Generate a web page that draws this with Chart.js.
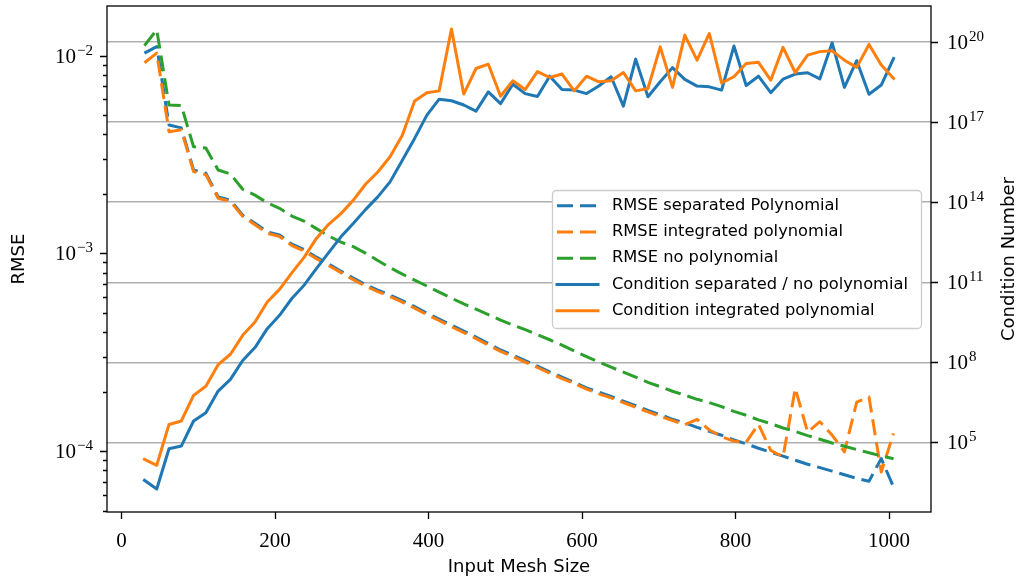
<!DOCTYPE html>
<html>
<head>
<meta charset="utf-8">
<script src="https://cdn.jsdelivr.net/npm/chart.js@4/dist/chart.umd.min.js"></script>
<style>
  html, body { margin: 0; padding: 0; background: #fff; }
  canvas { display: block; }
</style>
</head>
<body>
<canvas id="chart" width="1021" height="578"></canvas>
<script>
// input mesh sizes (x)
const meshSize = [30, 46, 62, 78, 94, 110, 126, 142, 158, 174, 190, 206, 222, 238, 254, 270, 286, 302, 318, 334,
  350, 366, 382, 398, 414, 430, 446, 462, 478, 494, 510, 526, 542, 558, 574, 590, 606, 622, 638, 654,
  670, 686, 702, 718, 734, 750, 766, 782, 798, 814, 830, 846, 862, 878, 894, 910, 926, 942, 958, 974, 990, 1006]

// RMSE (left axis)
const rmseSeparated = [1.028e-2, 1.11e-2, 4.46e-3, 4.31e-3, 2.64e-3, 2.54e-3, 1.93e-3, 1.86e-3, 1.56e-3, 1.42e-3,
  1.285e-3, 1.24e-3, 1.114e-3, 1.045e-3, 9.57e-4, 8.83e-4, 8.13e-4, 7.50e-4, 6.95e-4, 6.52e-4,
  6.15e-4, 5.77e-4, 5.38e-4, 4.99e-4, 4.66e-4, 4.34e-4, 4.05e-4, 3.78e-4, 3.50e-4, 3.25e-4,
  3.06e-4, 2.87e-4, 2.69e-4, 2.52e-4, 2.37e-4, 2.23e-4, 2.09e-4, 1.99e-4, 1.89e-4, 1.79e-4,
  1.70e-4, 1.61e-4, 1.53e-4, 1.45e-4, 1.39e-4, 1.32e-4, 1.26e-4, 1.205e-4, 1.14e-4, 1.09e-4,
  1.035e-4, 9.89e-5, 9.44e-5, 9.0e-5, 8.59e-5, 8.26e-5, 7.93e-5, 7.60e-5, 7.30e-5, 7.05e-5,
  9.18e-5, 6.59e-5]
const rmseIntegrated = [9.20e-3, 1.028e-2, 4.12e-3, 4.21e-3, 2.59e-3, 2.50e-3, 1.90e-3, 1.83e-3, 1.54e-3, 1.395e-3,
  1.263e-3, 1.218e-3, 1.095e-3, 1.027e-3, 9.41e-4, 8.68e-4, 7.99e-4, 7.37e-4, 6.83e-4, 6.41e-4,
  6.05e-4, 5.67e-4, 5.29e-4, 4.90e-4, 4.58e-4, 4.26e-4, 3.98e-4, 3.71e-4, 3.44e-4, 3.20e-4,
  3.01e-4, 2.82e-4, 2.65e-4, 2.48e-4, 2.33e-4, 2.20e-4, 2.06e-4, 1.95e-4, 1.86e-4, 1.76e-4,
  1.67e-4, 1.58e-4, 1.50e-4, 1.43e-4, 1.36e-4, 1.45e-4, 1.28e-4, 1.185e-4, 1.124e-4, 1.11e-4,
  1.37e-4, 1.01e-4, 9.36e-5, 2.08e-4, 1.25e-4, 1.41e-4, 1.205e-4, 9.92e-5, 1.77e-4, 1.88e-4,
  7.85e-5, 1.23e-4]
const rmseNoPoly = [1.122e-2, 1.349e-2, 5.62e-3, 5.59e-3, 3.46e-3, 3.41e-3, 2.64e-3, 2.52e-3, 2.11e-3, 1.97e-3,
  1.80e-3, 1.69e-3, 1.545e-3, 1.455e-3, 1.334e-3, 1.225e-3, 1.14e-3, 1.081e-3, 1.003e-3, 9.20e-4,
  8.47e-4, 7.85e-4, 7.33e-4, 6.84e-4, 6.37e-4, 5.94e-4, 5.55e-4, 5.22e-4, 4.90e-4, 4.60e-4,
  4.34e-4, 4.12e-4, 3.88e-4, 3.66e-4, 3.44e-4, 3.21e-4, 3.01e-4, 2.82e-4, 2.66e-4, 2.51e-4,
  2.37e-4, 2.23e-4, 2.12e-4, 2.01e-4, 1.92e-4, 1.83e-4, 1.76e-4, 1.68e-4, 1.59e-4, 1.52e-4,
  1.44e-4, 1.38e-4, 1.31e-4, 1.26e-4, 1.20e-4, 1.15e-4, 1.10e-4, 1.06e-4, 1.02e-4, 9.82e-5,
  9.48e-5, 9.16e-5]

// condition number (right axis)
const condSeparated = [3.76e3, 1.78e3, 5.75e4, 7.24e4, 6.31e5, 1.29e6, 8.32e6, 2.29e7, 1.17e8, 3.55e8,
  1.82e9, 5.75e9, 2.45e10, 7.76e10, 3.24e11, 1.29e12, 5.01e12, 1.58e13, 5.25e13, 1.58e14,
  5.75e14, 3.72e15, 2.45e16, 1.82e17, 7.24e17, 6.31e17, 4.37e17, 2.57e17, 1.35e18, 4.90e17,
  2.63e18, 1.17e18, 9.12e17, 5.25e18, 1.66e18, 1.58e18, 1.17e18, 2.24e18, 5.01e18, 3.98e17,
  2.29e19, 8.91e17, 3.24e18, 1.10e19, 3.98e18, 2.24e18, 2.09e18, 1.58e18, 7.08e19, 2.34e18,
  5.25e18, 1.26e18, 4.07e18, 6.31e18, 7.08e18, 4.17e18, 9.33e19, 2.00e18, 2.00e19, 1.10e18,
  2.45e18, 2.40e19]
const condIntegrated = [2.29e4, 1.38e4, 4.68e5, 6.31e5, 5.75e6, 1.26e7, 8.13e7, 2.00e8, 1.02e9, 3.24e9,
  1.82e10, 5.37e10, 2.24e11, 8.51e11, 4.37e12, 1.48e13, 3.72e13, 1.17e14, 4.68e14, 1.35e15,
  5.01e15, 3.24e16, 6.17e17, 1.26e18, 1.48e18, 3.09e20, 1.12e18, 1.02e19, 1.48e19, 9.33e17,
  3.55e18, 1.66e18, 7.76e18, 4.68e18, 6.31e18, 1.48e18, 5.25e18, 3.24e18, 3.55e18, 7.24e18,
  1.48e18, 1.82e18, 6.61e19, 2.00e18, 1.82e20, 2.09e19, 2.09e20, 2.95e18, 5.01e18, 1.58e19,
  1.74e19, 3.72e18, 6.31e19, 7.08e18, 3.24e19, 4.37e19, 4.68e19, 2.09e19, 1.12e19, 8.13e19,
  1.38e19, 4.37e18]

// ticks
const xTicks = [0, 200, 400, 600, 800, 1000]
const rmseTicks = [1e-4, 1e-3, 1e-2]
const rmseMinorTicks = [5e-5, 6e-5, 7e-5, 8e-5, 9e-5, 2e-4, 3e-4, 4e-4, 5e-4, 6e-4, 7e-4, 8e-4, 9e-4,
  2e-3, 3e-3, 4e-3, 5e-3, 6e-3, 7e-3, 8e-3, 9e-3]
const condTicks = [1e5, 1e8, 1e11, 1e14, 1e17, 1e20]

const legendLabels = ['RMSE separated Polynomial', 'RMSE integrated polynomial', 'RMSE no polynomial',
  'Condition separated / no polynomial', 'Condition integrated polynomial']

const BLUE = '#1f77b4', ORANGE = '#ff7f0e', GREEN = '#2ca02c'
const SERIF = '"Liberation Serif", "DejaVu Serif", serif'
const SANS = '"DejaVu Sans", sans-serif'
const LW = 3
const DASH = [16, 7]

function pts(ys){
    return meshSize.map((m, i) => ({x: m, y: ys[i]}))
}

function line(label, ys, color, axis, dashed, order){
    return {
        label: label,
        data: pts(ys),
        yAxisID: axis,
        borderColor: color,
        backgroundColor: color,
        borderWidth: LW,
        borderDash: dashed ? DASH : [],
        borderCapStyle: dashed ? 'butt' : 'square',
        borderJoinStyle: 'round',
        pointRadius: 0,
        tension: 0,
        fill: false,
        order: order
    }
}

function drawPow(ctx, v, x, y, align){
    const e = Math.round(Math.log10(v))
    const sup = e < 0 ? '\u2212' + (-e) : String(e)
    ctx.font = '21px ' + SERIF
    const wb = ctx.measureText('10').width
    ctx.font = '15px ' + SERIF
    const ws = ctx.measureText(sup).width
    const x0 = align === 'right' ? x - wb - ws - 1 : x
    ctx.textAlign = 'left'
    ctx.textBaseline = 'alphabetic'
    ctx.font = '21px ' + SERIF
    ctx.fillText('10', x0, y + 7)
    ctx.font = '15px ' + SERIF
    ctx.fillText(sup, x0 + wb + 1, y - 1)
}

const mplAxes = {
    id: 'mplAxes',
    afterDraw(chart){
        const ctx = chart.ctx
        const a = chart.chartArea
        const sx = chart.scales.x, sy = chart.scales.y, sy2 = chart.scales.y2
        ctx.save()
        ctx.fillStyle = '#000'
        ctx.strokeStyle = '#000'
        ctx.lineWidth = 1.3

        // tick marks
        ctx.beginPath()
        xTicks.forEach(v => {
            const px = Math.round(sx.getPixelForValue(v)) + 0.5
            ctx.moveTo(px, a.bottom); ctx.lineTo(px, a.bottom + 7)
        })
        rmseTicks.forEach(v => {
            const py = Math.round(sy.getPixelForValue(v)) + 0.5
            ctx.moveTo(a.left, py); ctx.lineTo(a.left - 7, py)
        })
        rmseMinorTicks.forEach(v => {
            const py = Math.round(sy.getPixelForValue(v)) + 0.5
            ctx.moveTo(a.left, py); ctx.lineTo(a.left - 4, py)
        })
        condTicks.forEach(v => {
            const py = Math.round(sy2.getPixelForValue(v)) + 0.5
            ctx.moveTo(a.right, py); ctx.lineTo(a.right + 7, py)
        })
        ctx.stroke()

        // tick labels
        ctx.font = '21px ' + SERIF
        ctx.textAlign = 'center'
        ctx.textBaseline = 'alphabetic'
        xTicks.forEach(v => {
            ctx.fillText(String(v), sx.getPixelForValue(v), a.bottom + 35)
        })
        rmseTicks.forEach(v => drawPow(ctx, v, a.left - 14, sy.getPixelForValue(v), 'right'))
        condTicks.forEach(v => drawPow(ctx, v, a.right + 16, sy2.getPixelForValue(v), 'left'))

        // axis titles
        ctx.font = '18px ' + SANS
        ctx.textAlign = 'center'
        ctx.textBaseline = 'middle'
        ctx.fillText('Input Mesh Size', (a.left + a.right) / 2, 567)
        ctx.save()
        ctx.translate(19, (a.top + a.bottom) / 2)
        ctx.rotate(-Math.PI / 2)
        ctx.fillText('RMSE', 0, 0)
        ctx.restore()
        ctx.save()
        ctx.translate(1009, (a.top + a.bottom) / 2)
        ctx.rotate(-Math.PI / 2)
        ctx.fillText('Condition Number', 0, 0)
        ctx.restore()

        // spines
        ctx.strokeRect(a.left, a.top, a.right - a.left, a.bottom - a.top)

        // legend
        const bx = 552, by = 190, bw = 369, bh = 138, r = 4
        ctx.beginPath()
        ctx.roundRect(bx + 0.5, by + 0.5, bw, bh, r)
        ctx.fillStyle = '#fff'
        ctx.fill()
        ctx.strokeStyle = '#cccccc'
        ctx.lineWidth = 1.3
        ctx.stroke()
        const colors = [BLUE, ORANGE, GREEN, BLUE, ORANGE]
        ctx.font = '16.3px ' + SANS
        ctx.textAlign = 'left'
        ctx.textBaseline = 'middle'
        legendLabels.forEach((t, i) => {
            const cy = 205.7 + i * 26.25
            ctx.beginPath()
            ctx.strokeStyle = colors[i]
            ctx.lineWidth = LW
            ctx.setLineDash(i < 3 ? DASH : [])
            ctx.lineCap = i < 3 ? 'butt' : 'square'
            ctx.moveTo(557, cy); ctx.lineTo(598, cy)
            ctx.stroke()
            ctx.setLineDash([])
            ctx.fillStyle = '#000'
            ctx.fillText(t, 612, cy)
        })
        ctx.restore()
    }
}

new Chart(document.getElementById('chart'), {
    type: 'line',
    data: {
        datasets: [
            line(legendLabels[0], rmseSeparated, BLUE, 'y', true, 5),
            line(legendLabels[1], rmseIntegrated, ORANGE, 'y', true, 4),
            line(legendLabels[2], rmseNoPoly, GREEN, 'y', true, 3),
            line(legendLabels[3], condSeparated, BLUE, 'y2', false, 2),
            line(legendLabels[4], condIntegrated, ORANGE, 'y2', false, 1)
        ]
    },
    options: {
        responsive: false,
        animation: false,
        layout: {padding: {top: 6, left: 0, right: 0, bottom: 0}},
        plugins: {legend: {display: false}, tooltip: {enabled: false}},
        scales: {
            x: {
                type: 'linear', min: -18.8, max: 1054.8,
                grid: {display: false}, border: {display: false}, ticks: {display: false},
                afterFit(s){ s.height = 66 }
            },
            y: {
                type: 'logarithmic', position: 'left', min: 4.93e-5, max: 1.78e-2,
                grid: {display: false}, border: {display: false}, ticks: {display: false},
                afterFit(s){ s.width = 107 }
            },
            y2: {
                type: 'logarithmic', position: 'right', min: 2.45e2, max: 2.24e21,
                grid: {color: '#b0b0b0', lineWidth: 1.4, drawTicks: false},
                border: {display: false}, ticks: {display: false},
                afterBuildTicks(s){ s.ticks = condTicks.map(v => ({value: v})) },
                afterFit(s){ s.width = 90 }
            }
        }
    },
    plugins: [mplAxes]
})
</script>
</body>
</html>
